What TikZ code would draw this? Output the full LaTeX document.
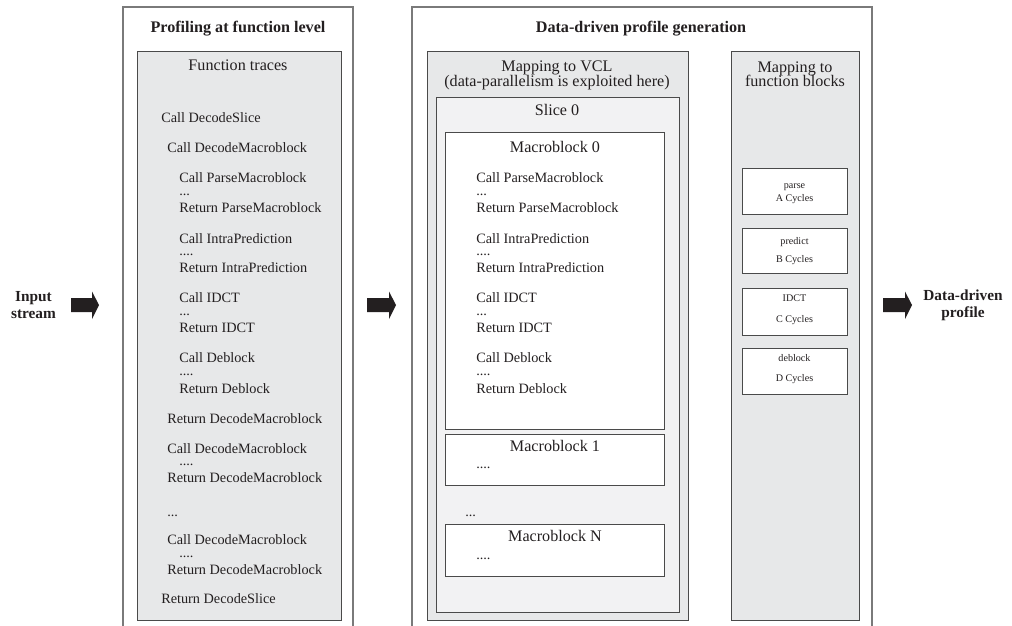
\documentclass[tikz,border=0pt]{standalone}
\usepackage{fontspec}
\setmainfont{Liberation Serif}
\definecolor{ink}{HTML}{231F20}
\definecolor{panelc}{HTML}{7A7A7A}
\definecolor{boxc}{HTML}{4A4A4A}
\definecolor{grayf}{HTML}{E7E8E9}
\definecolor{slicef}{HTML}{F2F2F3}
\begin{document}
\begin{tikzpicture}[x=0.75pt,y=-0.75pt,
  txt/.style={font=\fontsize{10.7}{12}\selectfont, anchor=base west, inner sep=0pt, text=ink},
  dts/.style={txt, text height=1.2pt, text depth=0pt},
  hdr/.style={font=\fontsize{12.1}{14}\selectfont, anchor=base, inner sep=0pt, text=ink},
  ttl/.style={font=\bfseries\fontsize{12.1}{14}\selectfont, anchor=base, inner sep=0pt, text=ink},
  side/.style={font=\bfseries\fontsize{11.5}{13}\selectfont, anchor=base, inner sep=0pt, text=ink},
  sml/.style={font=\fontsize{7.6}{9}\selectfont, anchor=base, inner sep=0pt, text=ink},
  panel/.style={draw=panelc, line width=0.8pt},
  graybox/.style={draw=boxc, fill=grayf, line width=0.7pt},
  slicebox/.style={draw=boxc, fill=slicef, line width=0.7pt},
  whitebox/.style={draw=boxc, fill=white, line width=0.7pt},
  blockarrow/.style={fill=ink, draw=none}
]
\clip (0,0) rectangle (1012,625);
\fill[white] (0,0) rectangle (1012,625);

% ---------- outer panels ----------
\draw[panel] (123,7) rectangle (353,640);
\draw[panel] (412,7) rectangle (872,640);
\node[ttl] (t1) at (238,32) {Profiling at function level};
\node[ttl] (t2) at (641,32) {Data-driven profile generation};

% ---------- left: function traces ----------
\draw[graybox] (137,51) rectangle (341,620);
\node[hdr] (ft) at (238,70.5) {Function traces};
\node[txt] (l1)  at (161,122) {Call DecodeSlice};
\node[txt] (l2)  at (167,152) {Call DecodeMacroblock};
\node[txt] (l3)  at (179,182) {Call ParseMacroblock};
\node[dts] (l3d) at (179,195) {...};
\node[txt] (l4)  at (179,212) {Return ParseMacroblock};
\node[txt] (l5)  at (179,243) {Call IntraPrediction};
\node[dts] (l5d) at (179,255) {....};
\node[txt] (l6)  at (179,272) {Return IntraPrediction};
\node[txt] (l7)  at (179,302) {Call IDCT};
\node[dts] (l7d) at (179,315) {...};
\node[txt] (l8)  at (179,332) {Return IDCT};
\node[txt] (l9)  at (179,362) {Call Deblock};
\node[dts] (l9d) at (179,375) {....};
\node[txt] (l10) at (179,393) {Return Deblock};
\node[txt] (l11) at (167,423) {Return DecodeMacroblock};
\node[txt] (l12) at (167,453) {Call DecodeMacroblock};
\node[dts] (l12d) at (179,465) {....};
\node[txt] (l13) at (167,482) {Return DecodeMacroblock};
\node[dts] (l14) at (167,516) {...};
\node[txt] (l15) at (167,544) {Call DecodeMacroblock};
\node[dts] (l15d) at (179,557) {....};
\node[txt] (l16) at (167,574) {Return DecodeMacroblock};
\node[txt] (l17) at (161,603) {Return DecodeSlice};

% ---------- middle: mapping to VCL ----------
\draw[graybox] (427,51) rectangle (688,620);
\node[hdr] (vcl1) at (557,71) {Mapping to VCL};
\node[hdr] (vcl2) at (557,86) {(data-parallelism is exploited here)};
\draw[slicebox] (436,97) rectangle (679,612);
\node[hdr] (sl) at (557,115) {Slice 0};

\draw[whitebox] (445,132) rectangle (664,429);
\node[hdr] (mb0) at (555,152) {Macroblock 0};
\node[txt] (m3)  at (476,182) {Call ParseMacroblock};
\node[dts] (m3d) at (476,195) {...};
\node[txt] (m4)  at (476,212) {Return ParseMacroblock};
\node[txt] (m5)  at (476,243) {Call IntraPrediction};
\node[dts] (m5d) at (476,255) {....};
\node[txt] (m6)  at (476,272) {Return IntraPrediction};
\node[txt] (m7)  at (476,302) {Call IDCT};
\node[dts] (m7d) at (476,315) {...};
\node[txt] (m8)  at (476,332) {Return IDCT};
\node[txt] (m9)  at (476,362) {Call Deblock};
\node[dts] (m9d) at (476,375) {....};
\node[txt] (m10) at (476,393) {Return Deblock};

\draw[whitebox] (445,434) rectangle (664,485);
\node[hdr] (mb1) at (555,451) {Macroblock 1};
\node[dts] (mb1d) at (476,468) {....};
\node[dts] (mbdots) at (465,516) {...};
\draw[whitebox] (445,524) rectangle (664,576);
\node[hdr] (mbn) at (555,541) {Macroblock N};
\node[dts] (mbnd) at (476,559) {....};

% ---------- right: mapping to function blocks ----------
\draw[graybox] (731,51) rectangle (859,620);
\node[hdr] (fb1) at (795,72) {Mapping to};
\node[hdr] (fb2) at (795,86) {function blocks};

\draw[whitebox] (742,168) rectangle (847,214);
\node[sml] (pa) at (794.5,188) {parse};
\node[sml] (pb) at (794.5,201) {A Cycles};
\draw[whitebox] (742,228) rectangle (847,273);
\node[sml] (pr) at (794.5,244) {predict};
\node[sml] (pc) at (794.5,262) {B Cycles};
\draw[whitebox] (742,288) rectangle (847,335);
\node[sml] (id) at (794.5,301.5) {IDCT};
\node[sml] (ic) at (794.5,322) {C Cycles};
\draw[whitebox] (742,348) rectangle (847,394);
\node[sml] (db) at (794.5,361.5) {deblock};
\node[sml] (dc) at (794.5,381.5) {D Cycles};

% ---------- side labels ----------
\node[side] (in1) at (33.5,301) {Input};
\node[side] (in2) at (33.5,318) {stream};
\node[side] (out1) at (963,300) {Data-driven};
\node[side] (out2) at (963,317) {profile};

% ---------- block arrows ----------
\fill[blockarrow] (71,298) -- (92,298) -- (92,291.5) -- (99,305) -- (92,319) -- (92,312) -- (71,312) -- cycle;
\fill[blockarrow] (367,298) -- (389,298) -- (389,291.5) -- (396,305) -- (389,319) -- (389,312) -- (367,312) -- cycle;
\fill[blockarrow] (883,298) -- (905,298) -- (905,291.5) -- (912,305) -- (905,319) -- (905,312) -- (883,312) -- cycle;
\end{tikzpicture}
\end{document}
